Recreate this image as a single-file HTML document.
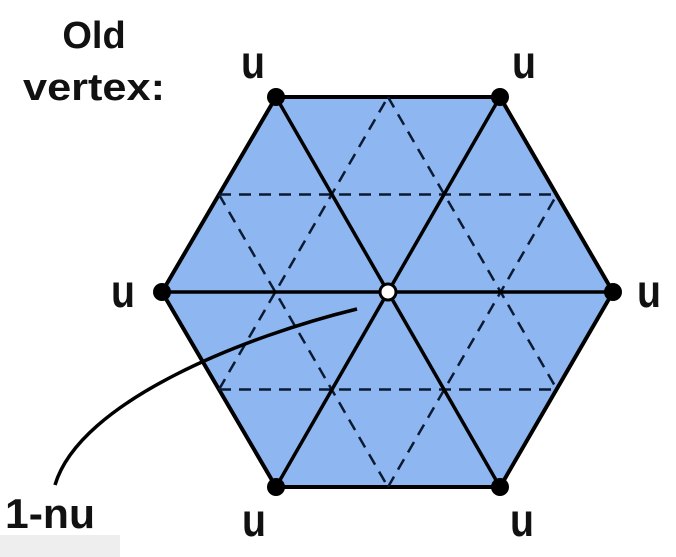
<!DOCTYPE html>
<html><head><style>
html,body{margin:0;padding:0;background:#fff;width:676px;height:557px;overflow:hidden}
</style></head><body>
<svg width="676" height="557" viewBox="0 0 676 557" xmlns="http://www.w3.org/2000/svg" font-family="Liberation Sans, sans-serif" font-weight="bold">
<polygon points="276,97 500,97 613,292 500,487 276,487 162,292" fill="#8eb6f0" stroke="#000" stroke-width="4" stroke-linejoin="round"/>
<g stroke="#0a1a33" stroke-width="2.5" stroke-dasharray="12,8">
<line x1="219" y1="194.5" x2="557" y2="194.5"/>
<line x1="219" y1="389.5" x2="557" y2="389.5"/>
<line x1="219" y1="389.5" x2="388" y2="97"/>
<line x1="388" y1="487" x2="557" y2="194.5"/>
<line x1="219" y1="194.5" x2="388" y2="487"/>
<line x1="388" y1="97" x2="557" y2="389.5"/>
</g>
<g stroke="#000" stroke-width="3.5">
<line x1="162" y1="292" x2="613" y2="292"/>
<line x1="276" y1="97" x2="500" y2="487"/>
<line x1="500" y1="97" x2="276" y2="487"/>
</g>
<g fill="#000">
<circle cx="276" cy="97" r="9"/><circle cx="500" cy="97" r="9"/>
<circle cx="613" cy="292" r="9"/><circle cx="500" cy="487" r="9"/>
<circle cx="276" cy="487" r="9"/><circle cx="162" cy="292" r="9"/>
</g>
<circle cx="388" cy="292" r="8" fill="#fff" stroke="#000" stroke-width="3"/>
<path d="M357,309 C250,335 80,400 55,485" fill="none" stroke="#000" stroke-width="3.5"/>
<g fill="#111">
<text x="94" y="48" font-size="38" text-anchor="middle">Old</text>
<text x="94" y="100" font-size="38" text-anchor="middle" textLength="142" lengthAdjust="spacingAndGlyphs">vertex:</text>
<g font-size="46">
<text x="241" y="78" textLength="24" lengthAdjust="spacingAndGlyphs">u</text>
<text x="512" y="78" textLength="24" lengthAdjust="spacingAndGlyphs">u</text>
<text x="111" y="307" textLength="24" lengthAdjust="spacingAndGlyphs">u</text>
<text x="637" y="307" textLength="24" lengthAdjust="spacingAndGlyphs">u</text>
<text x="242" y="536" textLength="24" lengthAdjust="spacingAndGlyphs">u</text>
<text x="510" y="536" textLength="24" lengthAdjust="spacingAndGlyphs">u</text>
</g>
<text x="5" y="528" font-size="42" textLength="90" lengthAdjust="spacingAndGlyphs">1-nu</text>
</g>
<rect x="0" y="535" width="120" height="22" fill="#eee"/>
</svg>
</body></html>
